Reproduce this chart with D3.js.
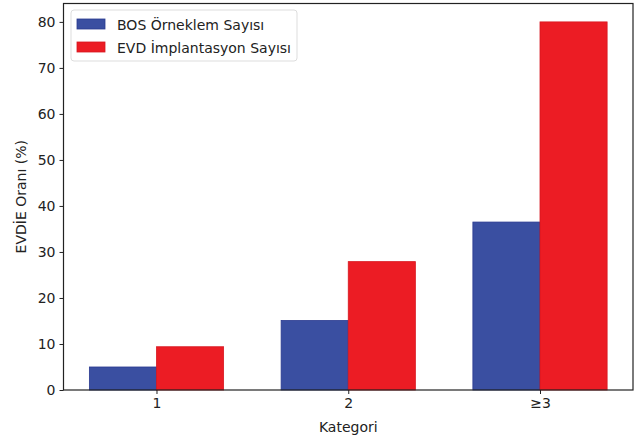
<!DOCTYPE html>
<html><head><meta charset="utf-8">
<script src="https://cdn.jsdelivr.net/npm/d3@7"></script>
<style>body{margin:0;background:#fff}svg{display:block}text{font-family:"DejaVu Sans",sans-serif;fill:#222}</style>
</head><body><svg id="c" width="636" height="437"></svg>
<script>
const categories = ["1", "2", "≥3"];
const seriesNames = ["BOS Örneklem Sayısı", "EVD İmplantasyon Sayısı"];
const bosValues = [5.0, 15.1, 36.5];
const evdValues = [9.4, 27.9, 80.0];
const yTicks = [0, 10, 20, 30, 40, 50, 60, 70, 80];
const colors = ["#3a4fa1", "#ec1c24"];
const edgeColors = ["#2a3a90", "#d81820"];

const svg = d3.select("#c");
const m = {l: 63.5, t: 3.5, r: 633, b: 390};
const bw = 0.35;
const fs = 14;
const x = d3.scaleLinear().domain([-bw - 0.135, 2 + bw + 0.135]).range([m.l, m.r]);
const y = d3.scaleLinear().domain([0, 84]).range([m.b, m.t]);
const series = [bosValues, evdValues];

series.forEach((vals, si) => {
  svg.append("g").selectAll("rect").data(vals).join("rect")
    .attr("x", (d, i) => x(i + (si === 0 ? -bw : 0)))
    .attr("width", x(bw) - x(0))
    .attr("y", d => y(d))
    .attr("height", d => y(0) - y(d))
    .attr("fill", colors[si])
    .attr("stroke", edgeColors[si]).attr("stroke-width", 0.8);
});

// frame
svg.append("rect").attr("x", m.l).attr("y", m.t).attr("width", m.r - m.l).attr("height", m.b - m.t)
  .attr("fill", "none").attr("stroke", "#222").attr("stroke-width", 1.2);

const ya = svg.append("g").attr("transform", `translate(${m.l},0)`)
  .call(d3.axisLeft(y).tickValues(yTicks).tickSize(4).tickPadding(4));
ya.select(".domain").remove();
ya.selectAll("text").attr("font-size", fs).style("font-family", "DejaVu Sans").attr("fill", "#222");
ya.selectAll("line").attr("stroke", "#222");

const xa = svg.append("g").attr("transform", `translate(0,${m.b})`)
  .call(d3.axisBottom(x).tickValues([0, 1, 2]).tickFormat((d, i) => categories[i]).tickSize(4).tickPadding(4));
xa.select(".domain").remove();
xa.selectAll("text").attr("font-size", fs).style("font-family", "DejaVu Sans").attr("fill", "#222");
xa.selectAll("line").attr("stroke", "#222");

svg.append("text").attr("x", (m.l + m.r) / 2).attr("y", 432).attr("text-anchor", "middle")
  .attr("font-size", fs).text("Kategori");
svg.append("text").attr("transform", `translate(26,${(m.t + m.b) / 2}) rotate(-90)`)
  .attr("text-anchor", "middle").attr("font-size", fs).text("EVDİE Oranı (%)");

// legend
const lg = svg.append("g");
lg.append("rect").attr("x", 71).attr("y", 10).attr("width", 226).attr("height", 51).attr("rx", 3)
  .attr("fill", "#fff").attr("stroke", "#ddd");
seriesNames.forEach((n, i) => {
  lg.append("rect").attr("x", 77).attr("y", 19 + i * 23).attr("width", 28).attr("height", 10)
    .attr("fill", colors[i]).attr("stroke", edgeColors[i]).attr("stroke-width", 0.8);
  lg.append("text").attr("x", 117).attr("y", 29.5 + i * 23).attr("font-size", fs).text(n);
});
</script></body></html>
